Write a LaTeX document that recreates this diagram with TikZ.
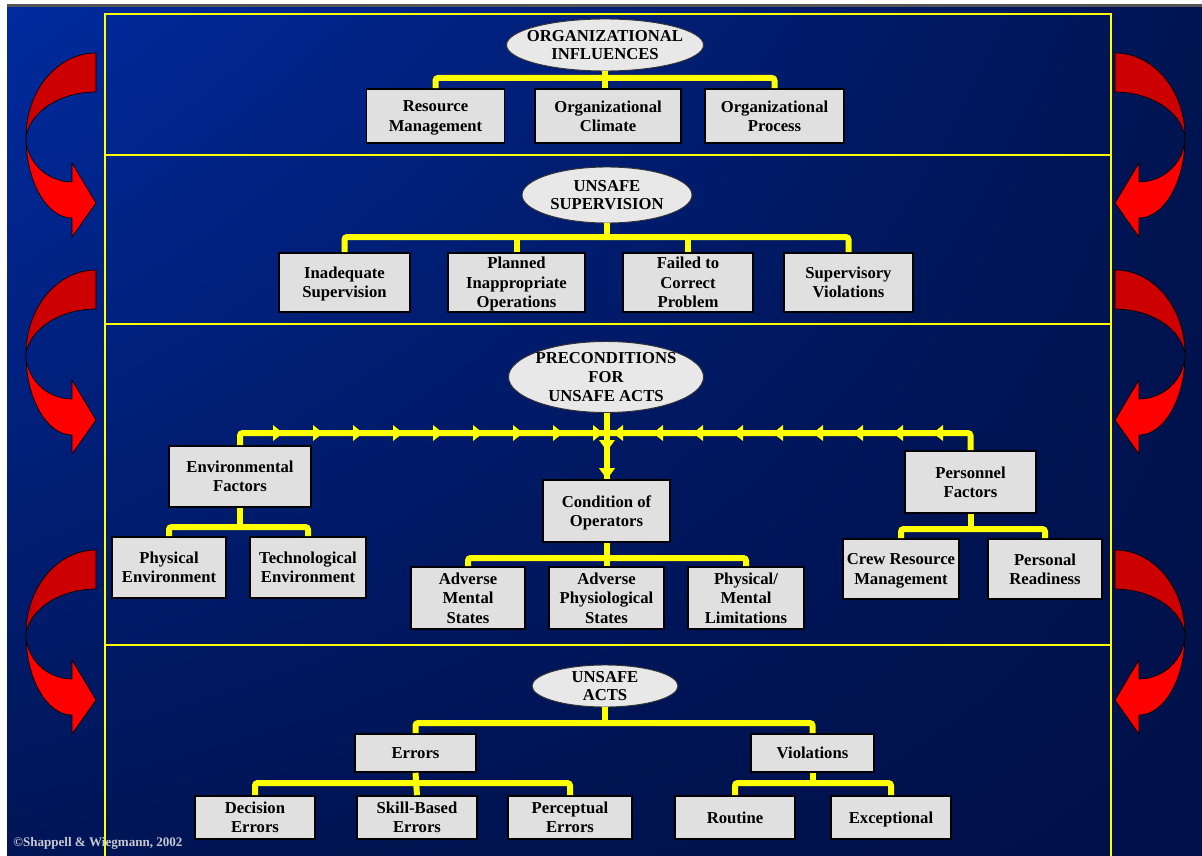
\documentclass[tikz,border=0pt]{standalone}
\usepackage{fontspec}
\setmainfont{Liberation Serif}
\usetikzlibrary{shapes.geometric,shadings}

\definecolor{bgUL}{RGB}{0,42,158}
\definecolor{bgUR}{RGB}{0,20,82}
\definecolor{bgLL}{RGB}{0,21,86}
\definecolor{bgLR}{RGB}{0,16,72}
\definecolor{stripgray}{RGB}{85,85,85}
\definecolor{boxfill}{RGB}{224,224,224}
\definecolor{ovalfill}{RGB}{232,232,232}
\definecolor{linkyellow}{RGB}{255,255,0}
\definecolor{loopdark}{RGB}{204,0,0}
\definecolor{looplight}{RGB}{255,0,0}
\definecolor{creditgray}{RGB}{200,200,210}

\tikzset{
  oval/.style={ellipse, draw=black!80, line width=0.7pt, fill=ovalfill, inner sep=0pt},
  ovaltext/.style={align=center, inner sep=0pt, font=\bfseries\fontsize{12.5}{14}\selectfont},
  factor/.style={rectangle, draw=black, line width=1.2pt, fill=boxfill, inner sep=0pt,
    align=center, text depth=0pt, font=\bfseries\fontsize{12.5}{14.5}\selectfont},
  link/.style={draw=linkyellow, line width=4.5pt, rounded corners=2pt},
  tierline/.style={draw=linkyellow, line width=1.2pt},
  flowtip/.style={fill=linkyellow}
}
\tikzset{wh/.style n args={2}{minimum width=#1*0.75pt, minimum height=#2*0.75pt}}
\tikzset{
  redloop/.pic={
    \filldraw[fill=loopdark, draw=black, line width=0.5pt]
      (0,0) .. controls (-39,0) and (-70,38) .. (-70,84)
      .. controls (-66,58) and (-35,39) .. (0,39) -- cycle;
    \filldraw[fill=looplight, draw=black, line width=0.5pt]
      (-70,84) .. controls (-70,129) and (-49,165) .. (-24,165)
      -- (-24,184) -- (0,150) -- (-24,110) -- (-24,129)
      .. controls (-49,129) and (-70,109) .. (-70,84) -- cycle;
  }
}

\begin{document}
\begin{tikzpicture}[x=0.75pt, y=-0.75pt]
  \useasboundingbox (0,0) rectangle (1202,856);
  % background
  \fill[white] (0,0) rectangle (1202,856);
  \fill[stripgray] (7,4) rectangle (1202,7.5);
  \shade[upper left=bgUL, upper right=bgUR, lower left=bgLL, lower right=bgLR]
    (7,7.5) rectangle (1202,856);

  % frame of the four tiers
  \draw[tierline] (105,858) -- (105,14) -- (1111,14) -- (1111,858);
  \foreach \y in {155,324,645}
    \draw[tierline] (105,\y) -- (1112,\y);

  % red loops on both sides
  \foreach \y in {53,270,550} {
    \pic at (96,\y) {redloop};
    \pic[xscale=-1] at (1115,\y) {redloop};
  }

  % tier 1
  \node[oval, wh={197}{52}, label={[ovaltext]center:{ORGANIZATIONAL\\INFLUENCES}}] (orgInf) at (605,45) {};
  \node[factor, wh={138}{54}] (resMgmt) at (435.5,116) {Resource\\Management};
  \node[factor, wh={146}{54}] (orgClimate) at (608,116) {Organizational\\Climate};
  \node[factor, wh={139}{54}] (orgProcess) at (774.5,116) {Organizational\\Process};
  \coordinate (orgBus) at (605,78);
  \draw[link] (resMgmt.north) |- (orgBus) -| (orgProcess.north);
  \draw[link] (orgInf.south) -- (orgInf.south |- orgClimate.north);

  % tier 2
  \node[oval, wh={170}{56}, label={[ovaltext]center:{UNSAFE\\SUPERVISION}}] (unsafeSup) at (607,195) {};
  \node[factor, wh={131}{59}] (inadSup) at (344.5,282.5) {Inadequate\\Supervision};
  \node[factor, wh={137}{59}] (plannedOps) at (516.5,282.5) {Planned\\Inappropriate\\Operations};
  \node[factor, wh={130}{59}] (failedFix) at (688,282.5) {Failed to\\Correct\\Problem};
  \node[factor, wh={129}{59}] (supViol) at (848.5,282.5) {Supervisory\\Violations};
  \coordinate (supBus) at (607,237);
  \draw[link] (inadSup.north) |- (supBus) -| (supViol.north);
  \draw[link] (unsafeSup.south) -- (supBus);
  \draw[link] (plannedOps.north) -- (plannedOps.north |- supBus);
  \draw[link] (failedFix.north) -- (failedFix.north |- supBus);

  % tier 3
  \node[oval, wh={195}{71}, label={[ovaltext]center:{PRECONDITIONS\\FOR\\UNSAFE ACTS}}] (precond) at (606,377) {};
  \node[factor, wh={142}{61}] (envFac) at (240,476.5) {Environmental\\Factors};
  \node[factor, wh={127}{62}] (condOps) at (606.5,511) {Condition of\\Operators};
  \node[factor, wh={131}{62}] (persFac) at (970.5,482) {Personnel\\Factors};
  \node[factor, wh={114}{61}] (physEnv) at (169,567.5) {Physical\\Environment};
  \node[factor, wh={116}{61}] (techEnv) at (308,567.5) {Technological\\Environment};
  \node[factor, wh={114}{62}] (advMental) at (468,598) {Adverse\\Mental\\States};
  \node[factor, wh={115}{62}] (advPhys) at (606.5,598) {Adverse\\Physiological\\States};
  \node[factor, wh={116}{62}] (physMental) at (746,598) {Physical/\\Mental\\Limitations};
  \node[factor, wh={116}{60}] (crewRes) at (901,569) {Crew Resource\\Management};
  \node[factor, wh={114}{60}] (persReady) at (1045,569) {Personal\\Readiness};

  \coordinate (preJoin) at (607,433);
  \draw[link] (envFac.north) |- (preJoin);
  \draw[link] (persFac.north) |- (preJoin);
  \draw[link] (precond.south -| preJoin) -- (condOps.north -| preJoin);
  \foreach \x in {283,323,...,603}
    \fill[flowtip] (\x,433) -- ++(-10,-8) -- ++(0,16) -- cycle;
  \foreach \x in {613,653,...,933}
    \fill[flowtip] (\x,433) -- ++(10,-8) -- ++(0,16) -- cycle;
  \fill[flowtip] (607,451) -- ++(-8,-11) -- ++(16,0) -- cycle;
  \fill[flowtip] (condOps.north -| preJoin) -- ++(-8,-11) -- ++(16,0) -- cycle;

  \coordinate (envBus) at (240,527);
  \draw[link] (physEnv.north) |- (envBus) -| (techEnv.north);
  \draw[link] (envFac.south) -- (envBus);
  \coordinate (condBus) at (606.5,558);
  \draw[link] (advMental.north) |- (condBus) -| (physMental.north);
  \draw[link] (condOps.south) -- (advPhys.north);
  \coordinate (persBus) at (970.5,529);
  \draw[link] (crewRes.north) |- (persBus) -| (persReady.north);
  \draw[link] (persFac.south) -- (persBus);

  % tier 4
  \node[oval, wh={146}{42}, label={[ovaltext]center:{UNSAFE\\ACTS}}] (unsafeActs) at (605,686) {};
  \node[factor, wh={121}{38}] (errors) at (415.5,753) {Errors};
  \node[factor, wh={123}{38}] (violations) at (812.5,753) {Violations};
  \node[factor, wh={120}{43}] (decErr) at (255,817.5) {Decision\\Errors};
  \node[factor, wh={120}{43}] (skillErr) at (417,817.5) {Skill-Based\\Errors};
  \node[factor, wh={124}{43}] (percErr) at (570,817.5) {Perceptual\\Errors};
  \node[factor, wh={120}{43}] (routine) at (735,817.5) {Routine};
  \node[factor, wh={120}{43}] (exceptional) at (891,817.5) {Exceptional};
  \coordinate (actsBus) at (605,723);
  \draw[link] (errors.north) |- (actsBus) -| (violations.north);
  \draw[link] (unsafeActs.south) -- (actsBus);
  \coordinate (errBus) at (415.5,783);
  \draw[link] (decErr.north) |- (errBus) -| (percErr.north);
  \draw[link] (errors.south) -- (skillErr.north);
  \coordinate (violBus) at (812.5,783);
  \draw[link] (routine.north) |- (violBus) -| (exceptional.north);
  \draw[link] (violations.south) -- (violBus);

  % credit line
  \node[anchor=west, inner sep=0pt, text=creditgray, font=\bfseries\fontsize{9.8}{10}\selectfont]
    (credit) at (13,843) {\textcopyright Shappell \& Wiegmann, 2002};
\end{tikzpicture}
\end{document}
